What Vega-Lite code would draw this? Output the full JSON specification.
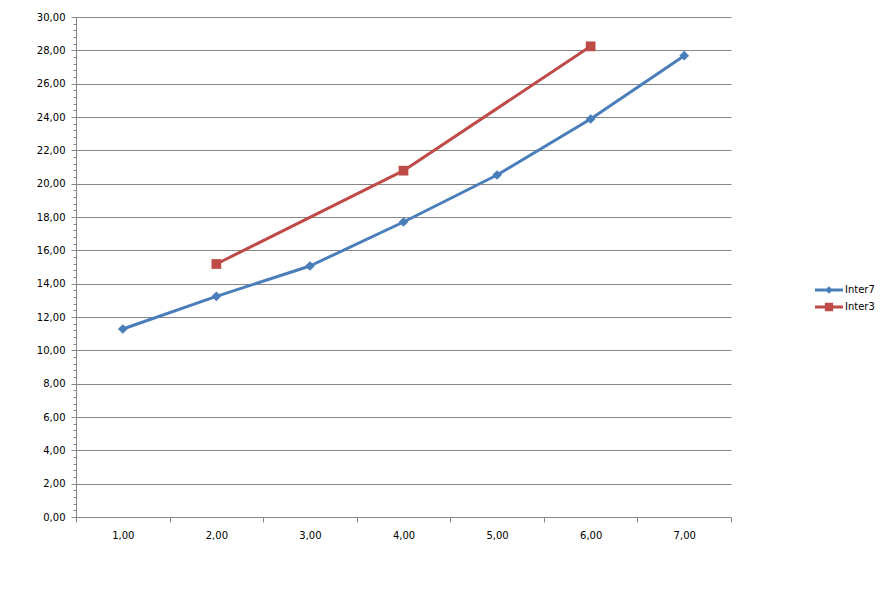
{
  "$schema": "https://vega.github.io/schema/vega-lite/v6.json",
  "width": 655,
  "height": 500,
  "autosize": {"type": "none"},
  "padding": {"left": 76, "top": 17, "right": 161, "bottom": 87},
  "background": "white",
  "config": {
    "view": {"stroke": null},
    "font": "DejaVu Sans",
    "axis": {"labelFont": "DejaVu Sans", "labelFontSize": 10, "labelColor": "#000000", "domainColor": "#868686", "tickColor": "#868686", "gridColor": "#868686", "gridOpacity": 1, "title": null},
    "legend": {"labelFont": "DejaVu Sans", "labelFontSize": 10, "labelColor": "#000000"}
  },
  "data": {
    "values": [
      {"x": 1, "v": 11.28, "s": "Inter7"},
      {"x": 2, "v": 13.24, "s": "Inter7"},
      {"x": 3, "v": 15.06, "s": "Inter7"},
      {"x": 4, "v": 17.7, "s": "Inter7"},
      {"x": 5, "v": 20.52, "s": "Inter7"},
      {"x": 6, "v": 23.88, "s": "Inter7"},
      {"x": 7, "v": 27.68, "s": "Inter7"},
      {"x": 2, "v": 15.18, "s": "Inter3"},
      {"x": 4, "v": 20.78, "s": "Inter3"},
      {"x": 6, "v": 28.24, "s": "Inter3"}
    ]
  },
  "layer": [
    {
      "mark": {"type": "line", "strokeWidth": 3, "strokeJoin": "round", "strokeCap": "round"},
      "encoding": {
        "x": {"field": "x", "type": "quantitative", "scale": {"domain": [0.5, 7.5], "nice": false, "zero": false},
          "axis": {"values": [1, 2, 3, 4, 5, 6, 7], "labelExpr": "replace(format(datum.value, '.2f'), '.', ',')", "tickSize": 0, "labelPadding": 13, "grid": false, "orient": "bottom"}},
        "y": {"field": "v", "type": "quantitative", "scale": {"domain": [0, 30], "nice": false},
          "axis": {"values": [0, 2, 4, 6, 8, 10, 12, 14, 16, 18, 20, 22, 24, 26, 28, 30], "labelExpr": "replace(format(datum.value, '.2f'), '.', ',')", "tickSize": 5, "labelPadding": 6, "grid": true, "orient": "left"}},
        "color": {"field": "s", "type": "nominal", "scale": {"domain": ["Inter7", "Inter3"], "range": ["#4A7EBB", "#BE4B48"]},
          "legend": {
            "title": null,
            "orient": "none",
            "legendX": 741.5,
            "legendY": 261.5,
            "padding": 0,
            "symbolSize": 529,
            "symbolStrokeWidth": 0,
            "symbolType": "square",
            "labelOffset": 4.5,
            "rowPadding": 0,
            "encode": {
              "symbols": {
                "update": {
                  "shape": [
                    {"test": "datum.value === 'Inter7'", "value": "M-1.22,-0.13L1.22,-0.13L1.22,0.13L-1.22,0.13ZM0,-0.33L0.33,0L0,0.33L-0.33,0Z"},
                    {"value": "M-1.22,-0.13L1.22,-0.13L1.22,0.13L-1.22,0.13ZM-0.36,-0.36L0.36,-0.36L0.36,0.36L-0.36,0.36Z"}
                  ],
                  "fill": [
                    {"test": "datum.value === 'Inter7'", "value": "#4A7EBB"},
                    {"value": "#BE4B48"}
                  ],
                  "strokeWidth": {"value": 0},
                  "opacity": {"value": 1}
                }
              }
            }
          }
        },
        "detail": {"field": "s"}
      }
    },
    {
      "transform": [{"filter": "datum.s === 'Inter7'"}],
      "mark": {"type": "point", "shape": "diamond", "filled": true, "opacity": 1, "size": 95, "strokeWidth": 0},
      "encoding": {
        "x": {"field": "x", "type": "quantitative",
          "axis": {"values": [0.5, 1.5, 2.5, 3.5, 4.5, 5.5, 6.5, 7.5], "labels": false, "tickSize": 5, "domain": false, "grid": false, "orient": "bottom"}},
        "y": {"field": "v", "type": "quantitative",
          "axis": {"values": [0.4, 0.8, 1.2, 1.6, 2.4, 2.8, 3.2, 3.6, 4.4, 4.8, 5.2, 5.6, 6.4, 6.8, 7.2, 7.6, 8.4, 8.8, 9.2, 9.6, 10.4, 10.8, 11.2, 11.6, 12.4, 12.8, 13.2, 13.6, 14.4, 14.8, 15.2, 15.6, 16.4, 16.8, 17.2, 17.6, 18.4, 18.8, 19.2, 19.6, 20.4, 20.8, 21.2, 21.6, 22.4, 22.8, 23.2, 23.6, 24.4, 24.8, 25.2, 25.6, 26.4, 26.8, 27.2, 27.6, 28.4, 28.8, 29.2, 29.6], "labels": false, "tickSize": 3, "domain": false, "grid": false, "orient": "left"}},
        "color": {"field": "s", "type": "nominal"}
      }
    },
    {
      "transform": [{"filter": "datum.s === 'Inter3'"}],
      "mark": {"type": "point", "shape": "square", "filled": true, "opacity": 1, "size": 95, "strokeWidth": 0},
      "encoding": {
        "x": {"field": "x", "type": "quantitative", "axis": null},
        "y": {"field": "v", "type": "quantitative", "axis": null},
        "color": {"field": "s", "type": "nominal"}
      }
    }
  ],
  "resolve": {"axis": {"x": "independent", "y": "independent"}}
}
